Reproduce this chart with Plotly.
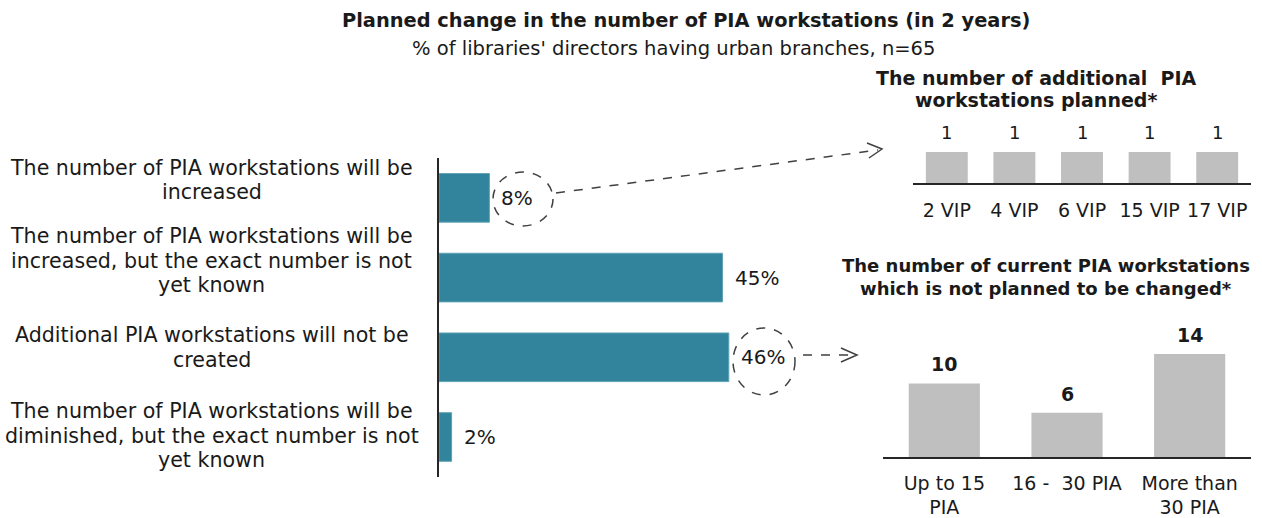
import plotly.graph_objects as go

W, H = 1262, 518

# ---- data ----
main_categories = [
    "The number of PIA workstations will be<br>increased",
    "The number of PIA workstations will be<br>increased, but the exact number is not<br>yet known",
    "Additional PIA workstations will not be<br>created",
    "The number of PIA workstations will be<br>diminished, but the exact number is not<br>yet known",
]
main_values = [8, 45, 46, 2]

vip_categories = ["2 VIP", "4 VIP", "6 VIP", "15 VIP", "17 VIP"]
vip_values = [1, 1, 1, 1, 1]

pia_categories = ["Up to 15<br>PIA", "16 -  30 PIA", "More than<br>30 PIA"]
pia_values = [10, 6, 14]

title = "Planned change in the number of PIA workstations (in 2 years)"
subtitle = "% of libraries' directors having urban branches, n=65"
vip_title = ["The number of additional  PIA", "workstations planned*"]
pia_title = ["The number of current PIA workstations", "which is not planned to be changed*"]

FONT = "DejaVu Sans"
TEAL = "#31849b"
GREY = "#bfbfbf"
TXT = "#1a1a1a"


def px(x):
    return x / W


def py(y):
    return 1 - y / H


fig = go.Figure()

fig.add_trace(go.Bar(
    x=main_values, y=main_categories, orientation="h",
    marker=dict(color=TEAL, line=dict(color="#5fa3b6", width=1)),
    xaxis="x", yaxis="y", hoverinfo="skip", showlegend=False,
))
fig.add_trace(go.Bar(
    x=vip_categories, y=vip_values,
    marker=dict(color=GREY, line=dict(width=0)),
    xaxis="x2", yaxis="y2", hoverinfo="skip", showlegend=False,
))
fig.add_trace(go.Bar(
    x=pia_categories, y=pia_values,
    marker=dict(color=GREY, line=dict(width=0)),
    xaxis="x3", yaxis="y3", hoverinfo="skip", showlegend=False,
))

annotations = []
# main value labels
for c, v in zip(main_categories, main_values):
    annotations.append(dict(x=v, y=c, xref="x", yref="y", text=f"{v}%",
                            showarrow=False, xanchor="left", yanchor="middle", xshift=10,
                            font=dict(family=FONT, size=20, color=TXT)))
# category labels, one annotation per line for tighter line spacing
LINE = 24.5
label_shifts = [18, 17, 10, 1.5]
for c, s in zip(main_categories, label_shifts):
    lines = c.split("<br>")
    n = len(lines)
    for i, ln in enumerate(lines):
        annotations.append(dict(x=px(211.5), y=c, xref="paper", yref="y", text=ln,
                                showarrow=False, xanchor="center", yanchor="middle",
                                yshift=s - (i - (n - 1) / 2) * LINE,
                                font=dict(family=FONT, size=20.6, color=TXT)))
# vip labels
for c, v in zip(vip_categories, vip_values):
    annotations.append(dict(x=c, y=v, xref="x2", yref="y2", text=str(v),
                            showarrow=False, xanchor="center", yanchor="bottom", yshift=7,
                            font=dict(family=FONT, size=18, color=TXT)))
# pia labels
for c, v in zip(pia_categories, pia_values):
    annotations.append(dict(x=c, y=v, xref="x3", yref="y3", text=f"<b>{v}</b>",
                            showarrow=False, xanchor="center", yanchor="bottom", yshift=6,
                            font=dict(family=FONT, size=19, color=TXT)))
# titles
annotations += [
    dict(x=px(686), y=py(20), xref="paper", yref="paper", text=f"<b>{title}</b>",
         showarrow=False, xanchor="center", yanchor="middle",
         font=dict(family=FONT, size=19.4, color=TXT)),
    dict(x=px(673), y=py(48), xref="paper", yref="paper", text=subtitle,
         showarrow=False, xanchor="center", yanchor="middle",
         font=dict(family=FONT, size=19.5, color=TXT)),
]
for i, ln in enumerate(vip_title):
    annotations.append(dict(x=px(1036), y=py(78 + 22 * i), xref="paper", yref="paper",
                            text=f"<b>{ln}</b>", showarrow=False,
                            xanchor="center", yanchor="middle",
                            font=dict(family=FONT, size=19, color=TXT)))
for i, ln in enumerate(pia_title):
    annotations.append(dict(x=px(1046), y=py(265 + 23 * i), xref="paper", yref="paper",
                            text=f"<b>{ln}</b>", showarrow=False,
                            xanchor="center", yanchor="middle",
                            font=dict(family=FONT, size=18, color=TXT)))

dash = dict(color="#404040", width=1.5, dash="dash")
shapes = [
    # dashed circles
    dict(type="circle", xref="paper", yref="paper",
         x0=px(493), x1=px(553), y0=py(226), y1=py(172), line=dash),
    dict(type="circle", xref="paper", yref="paper",
         x0=px(733), x1=px(795), y0=py(395), y1=py(328), line=dash),
    # dashed arrows
    dict(type="line", xref="paper", yref="paper",
         x0=px(556), y0=py(193), x1=px(878), y1=py(150), line=dash),
    dict(type="path", xref="paper", yref="paper",
         path=f"M {px(867)} {py(143)} L {px(882)} {py(149)} L {px(869)} {py(158)}",
         line=dict(color="#404040", width=1.5)),
    dict(type="line", xref="paper", yref="paper",
         x0=px(803), y0=py(355), x1=px(855), y1=py(355), line=dash),
    dict(type="path", xref="paper", yref="paper",
         path=f"M {px(841)} {py(348)} L {px(857)} {py(355)} L {px(841)} {py(362)}",
         line=dict(color="#404040", width=1.5)),
]

fig.update_layout(
    width=W, height=H,
    margin=dict(l=0, r=0, t=0, b=0),
    paper_bgcolor="white", plot_bgcolor="white",
    font=dict(family=FONT, size=19, color=TXT),
    bargap=0.39,
    annotations=annotations,
    shapes=shapes,
    xaxis=dict(domain=[px(439), px(754)], range=[0, 50], visible=False, fixedrange=True),
    yaxis=dict(domain=[py(477), py(158)], autorange="reversed", showticklabels=False,
               showline=True, linecolor="#262626", linewidth=2, ticks="",
               showgrid=False, zeroline=False, anchor="x"),
    xaxis2=dict(domain=[px(913), px(1251)], anchor="y2", showline=True,
                linecolor="#262626", linewidth=1.5, ticks="outside", ticklen=9,
                tickcolor="rgba(0,0,0,0)", showgrid=False,
                tickfont=dict(family=FONT, size=19, color=TXT)),
    yaxis2=dict(domain=[py(183), py(152)], range=[0, 1], visible=False, anchor="x2"),
    xaxis3=dict(domain=[px(883), px(1251)], anchor="y3", showline=True,
                linecolor="#262626", linewidth=1.5, ticks="outside", ticklen=8,
                tickcolor="rgba(0,0,0,0)", showgrid=False,
                tickfont=dict(family=FONT, size=19, color=TXT)),
    yaxis3=dict(domain=[py(457), py(354)], range=[0, 14], visible=False, anchor="x3"),
)
fig.update_traces(selector=dict(xaxis="x2"), width=0.62)
fig.update_traces(selector=dict(xaxis="x3"), width=0.58)

fig.write_html("out.html", config={"displayModeBar": False},
               post_script="document.body.style.margin='0';")
